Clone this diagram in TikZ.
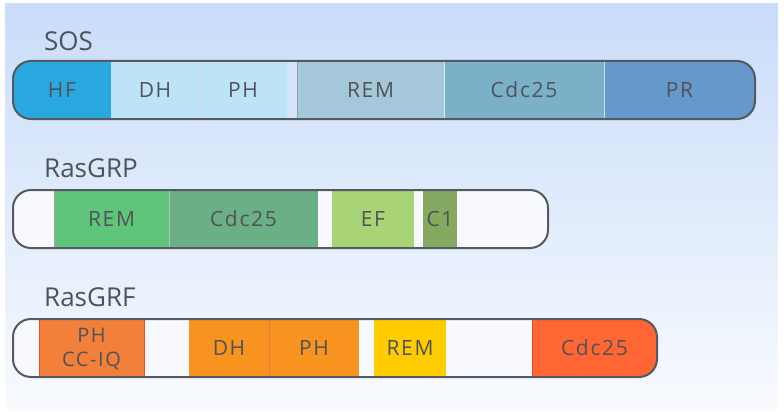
\documentclass[tikz,border=0pt]{standalone}
\usepackage{fontspec}
\setmainfont{Open Sans}
\newfontfamily\domfont[LetterSpace=8]{Open Sans}
\definecolor{bgtop}{HTML}{C9DCFA}
\definecolor{bgbot}{HTML}{F8FAFE}
\definecolor{outline}{HTML}{555A60}
\definecolor{txt}{HTML}{4F5358}
\definecolor{barfill}{HTML}{F7F9FE}
\definecolor{hf}{HTML}{29A8E0}
\definecolor{dh}{HTML}{BDE3F6}
\definecolor{gapblue}{HTML}{D3E3F8}
\definecolor{remsos}{HTML}{A5C7DA}
\definecolor{cdcsos}{HTML}{7AB1C8}
\definecolor{pr}{HTML}{6598CB}
\definecolor{remgrp}{HTML}{5EC57B}
\definecolor{cdcgrp}{HTML}{6AAF85}
\definecolor{ef}{HTML}{A9D475}
\definecolor{cone}{HTML}{84A960}
\definecolor{phcc}{HTML}{F27F3A}
\definecolor{dhgrf}{HTML}{F7931E}
\definecolor{remgrf}{HTML}{FFCC00}
\definecolor{cdcgrf}{HTML}{FF6633}
\definecolor{redline}{HTML}{D9532B}
\tikzset{
  title/.style={text=txt, font=\fontsize{26}{28}\selectfont, anchor=west, inner sep=0pt},
  dom/.style={text=txt, font=\domfont\fontsize{21}{22}\selectfont, align=center, inner sep=0pt},
  bar/.style={draw=outline, line width=2pt},
  sep/.style={line width=0.6pt},
}
% \seg{x1}{x2}{ytop}{ybot}{color}{name}{text}
\newcommand{\seg}[7]{%
  \fill[#5] (#1,#3) rectangle (#2,#4);
  \node[dom] (#6) at ({(#1+#2)/2},{(#3+#4)/2}) {#7};
}
\begin{document}
\begin{tikzpicture}[x=1pt,y=-1pt]
\useasboundingbox (0,0) rectangle (784,412);
\shade[top color=bgtop, bottom color=bgbot] (5,4) rectangle (778,408);

% ---------------- SOS ----------------
\node[title] (tsos) at (44,41) {SOS};
\begin{scope}
  \clip[rounded corners=18pt] (13,61) rectangle (755,119);
  \fill[barfill] (13,61) rectangle (755,119);
  \seg{13}{111}{61}{119}{hf}{hf}{HF}
  \seg{111}{199}{61}{119}{dh}{dhsos}{DH}
  \seg{199}{287}{61}{119}{dh}{phsos}{PH}
  \fill[gapblue] (287,61) rectangle (297,119);
  \seg{297}{444}{61}{119}{remsos}{remsos}{REM}
  \seg{444}{604}{61}{119}{cdcsos}{cdcsos}{Cdc25}
  \seg{604}{755}{61}{119}{pr}{prsos}{PR}
  \draw[sep, draw=black!15] (199,61) -- (199,119);
  \draw[sep, draw=white!70!cdcsos] (444,61) -- (444,119);
  \draw[sep, draw=white!70!pr] (604,61) -- (604,119);
  \draw[sep, draw=outline!60] (297,61) -- (297,119);
\end{scope}
\draw[bar, rounded corners=18pt] (13,61) rectangle (755,119);

% ---------------- RasGRP ----------------
\node[title] (tgrp) at (44,168) {RasGRP};
\begin{scope}
  \clip[rounded corners=18pt] (13,190) rectangle (548,248);
  \fill[barfill] (13,190) rectangle (548,248);
  \seg{54}{169}{190}{248}{remgrp}{remgrp}{REM}
  \seg{169}{318}{190}{248}{cdcgrp}{cdcgrp}{Cdc25}
  \seg{332}{414}{190}{248}{ef}{efgrp}{EF}
  \seg{423}{457}{190}{248}{cone}{c1grp}{C1}
  \draw[sep, draw=black!35] (54,190) -- (54,248);
  \draw[sep, draw=black!25] (169,190) -- (169,248);
\end{scope}
\draw[bar, rounded corners=18pt] (13,190) rectangle (548,248);

% ---------------- RasGRF ----------------
\node[title] (tgrf) at (44,297) {RasGRF};
\begin{scope}
  \clip[rounded corners=18pt] (13,319) rectangle (657,377);
  \fill[barfill] (13,319) rectangle (657,377);
  \fill[phcc] (39,319) rectangle (144,377);
  \node[dom, font=\domfont\fontsize{20}{24}\selectfont] (phcc) at (91.5,349) {PH\\CC-IQ};
  \draw[sep, draw=redline] (39,319) -- (39,377);
  \draw[sep, draw=redline] (144,319) -- (144,377);
  \seg{189}{269}{319}{377}{dhgrf}{dhgrf}{DH}
  \seg{269}{359}{319}{377}{dhgrf}{phgrf}{PH}
  \draw[sep, draw=redline!80] (269,319) -- (269,377);
  \seg{374}{446}{319}{377}{remgrf}{remgrf}{REM}
  \seg{532}{657}{319}{377}{cdcgrf}{cdcgrf}{Cdc25}
  \draw[sep, draw=redline] (532,319) -- (532,377);
\end{scope}
\draw[bar, rounded corners=18pt] (13,319) rectangle (657,377);
\end{tikzpicture}
\end{document}
